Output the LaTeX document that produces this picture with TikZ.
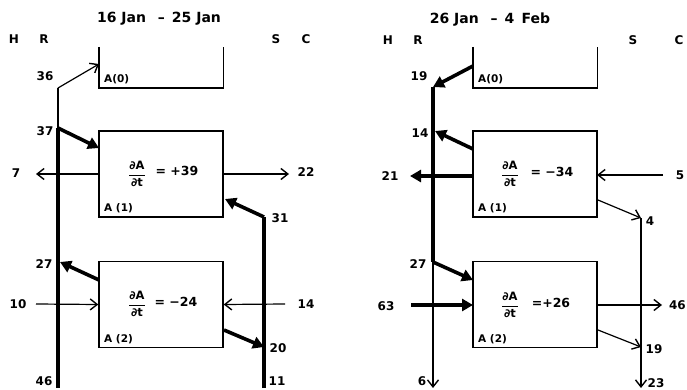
\documentclass[tikz,border=0pt]{standalone}
\usepackage{fontspec}
\setmainfont{DejaVu Sans}
\usetikzlibrary{arrows.meta}
\newcommand{\dAdt}{$\displaystyle\frac{\hbox{\bfseries ∂A}}{\hbox{\bfseries ∂t}}$}
\begin{document}
\begin{tikzpicture}[x=1pt,y=-1pt,
  thinl/.style={line width=1.2pt},
  thickl/.style={line width=3.6pt},
  thinarr/.style={thinl,-{Straight Barb[length=7pt,width=11pt,line width=1.4pt]}},
  thickarr/.style={thickl,-{Triangle[length=11pt,width=12pt]}},
  box/.style={draw,line width=1.4pt,minimum width=124pt,minimum height=86pt,inner sep=0pt},
  openbox/.style={minimum width=124pt,minimum height=41pt,inner sep=0pt},
  lab/.style={font=\bfseries\fontsize{12}{13}\selectfont,inner sep=1pt},
  ttl/.style={font=\bfseries\fontsize{14}{15}\selectfont,inner sep=1pt},
  small/.style={font=\bfseries\fontsize{10.5}{11}\selectfont,inner sep=1pt,anchor=west},
  eq/.style={font=\bfseries\fontsize{12.5}{13}\selectfont,inner sep=1pt},
  frc/.style={font=\bfseries\fontsize{11.5}{12}\selectfont,inner sep=1pt}
]
\useasboundingbox (0,0) rectangle (687,390);

% ================= LEFT PANEL =================
\node[ttl] (t1) at (159,19) {16 Jan \enspace–\enspace 25 Jan};
\node[lab] (h1) at (14,39) {H};
\node[lab] (r1) at (44,39) {R};
\node[lab] (s1) at (276,39) {S};
\node[lab] (c1) at (306,39) {C};

\node[openbox] (a0) at (161,67.5) {};
\draw[line width=1.4pt] (a0.north west) -- (a0.south west) -- (a0.south east) -- (a0.north east);
\node[small] (a0l) at (103,79) {A(0)};

\node[box] (b1) at (161,174) {};
\node[small] (b1l) at (103,208) {A (1)};
\node[frc] (b1f) at (137,174) {\dAdt};
\node[eq] (b1e) at (177,171) {= +39};

\node[box] (b2) at (161,304.5) {};
\node[small] (b2l) at (103,339) {A (2)};
\node[frc] (b2f) at (137,304) {\dAdt};
\node[eq] (b2e) at (176,302) {= −24};

% R line
\coordinate (lR0) at (58,88);
\coordinate (lR1) at (58,128);
\coordinate (lR2) at (60,262);
\coordinate (lRb) at (58,388);
\coordinate (lA0in) at (99,64);
\coordinate (lB1in) at (99,148);
\coordinate (lB2out) at (99,280);
\draw[thinl] (lR0) -- (lR1);
\draw[thickl] (lR1) -- (lRb);
\draw[thinarr] (lR0) -- (lA0in);
\draw[thickarr] (lR1) -- (lB1in);
\draw[thickarr] (lB2out) -- (lR2);

% horizontal flows
\coordinate (l7) at (36,174);
\coordinate (l22) at (289,174);
\coordinate (l10) at (36,304);
\coordinate (l14) at (285,304);
\draw[thinarr] (b1.west) -- (l7);
\draw[thinarr] (b1.east) -- (l22);
\draw[thinarr] (l10) -- (b2.west);
\draw[thinarr] (l14) -- (b2.east);

% S line
\coordinate (lS1) at (264,217);
\coordinate (lSb) at (264,388);
\coordinate (lB1r) at (225,199);
\coordinate (lB2r) at (224,330);
\coordinate (lS20) at (264,347);
\draw[thickl] (lSb) -- (lS1);
\draw[thickarr] (lS1) -- (lB1r);
\draw[thickarr] (lB2r) -- (lS20);

\node[lab] (n36) at (45,76) {36};
\node[lab] (n37) at (45,131) {37};
\node[lab] (n27) at (44,264) {27};
\node[lab] (n46) at (44,381) {46};
\node[lab] (n7) at (16,173) {7};
\node[lab] (n22) at (306,172) {22};
\node[lab] (n10) at (18,304) {10};
\node[lab] (n14) at (306,304) {14};
\node[lab] (n31) at (280,218) {31};
\node[lab] (n20) at (278,348) {20};
\node[lab] (n11) at (277,381) {11};

% ================= RIGHT PANEL =================
\node[ttl] (t2) at (490,20) {26 Jan \enspace–\enspace 4 \,Feb};
\node[lab] (h2) at (388,40) {H};
\node[lab] (r2) at (418,40) {R};
\node[lab] (s2) at (633,40) {S};
\node[lab] (c2) at (679,40) {C};

\node[openbox] (ra0) at (535,67.5) {};
\draw[line width=1.4pt] (ra0.north west) -- (ra0.south west) -- (ra0.south east) -- (ra0.north east);
\node[small] (ra0l) at (477,79) {A(0)};

\node[box] (rb1) at (535,174) {};
\node[small] (rb1l) at (477,208) {A (1)};
\node[frc] (rb1f) at (510,174) {\dAdt};
\node[eq] (rb1e) at (552,172) {= −34};

\node[box] (rb2) at (535,304.5) {};
\node[small] (rb2l) at (477,339) {A (2)};
\node[frc] (rb2f) at (510,305) {\dAdt};
\node[eq] (rb2e) at (551,303) {=+26};

% R line
\coordinate (rR0) at (433,87);
\coordinate (rR1) at (435,131);
\coordinate (rR2) at (433,262);
\coordinate (rRb) at (433,388);
\coordinate (rA0out) at (473,66);
\coordinate (rB1out) at (473,149);
\coordinate (rB2in) at (473,280);
\draw[thickl] (rR0) -- (rR2);
\draw[thinarr] (rR2) -- (rRb);
\draw[thickarr] (rA0out) -- (rR0);
\draw[thickarr] (rB1out) -- (rR1);
\draw[thickarr] (rR2) -- (rB2in);

% horizontal flows
\coordinate (r21) at (410,176);
\coordinate (rB1w) at (473,176);
\coordinate (r5) at (663,175);
\coordinate (rB1e) at (597,175);
\coordinate (r63) at (411,305);
\coordinate (rB2w) at (473,305);
\coordinate (r46) at (662,305);
\coordinate (rB2e) at (597,305);
\draw[thickarr] (rB1w) -- (r21);
\draw[thinarr] (r5) -- (rB1e);
\draw[thickarr] (r63) -- (rB2w);
\draw[thinarr] (rB2e) -- (r46);

% C line
\coordinate (rC4) at (641,218);
\coordinate (rC19) at (641,347);
\coordinate (rCb) at (641,388);
\coordinate (rB1r) at (598,200);
\coordinate (rB2r) at (598,330);
\draw[thinarr] (rB1r) -- (rC4);
\draw[thinarr] (rB2r) -- (rC19);
\draw[thinarr] (rC4) -- (rCb);

\node[lab] (m19) at (419,76) {19};
\node[lab] (m14) at (420,133) {14};
\node[lab] (m21) at (390,176) {21};
\node[lab] (m27) at (418,264) {27};
\node[lab] (m63) at (386,306) {63};
\node[lab] (m6) at (422,381) {6};
\node[lab] (m5) at (680,175) {5};
\node[lab,anchor=east] (m46) at (687,305) {46};
\node[lab] (m4) at (650,221) {4};
\node[lab] (m19b) at (654,349) {19};
\node[lab] (m23) at (656,383) {23};
\end{tikzpicture}
\end{document}
